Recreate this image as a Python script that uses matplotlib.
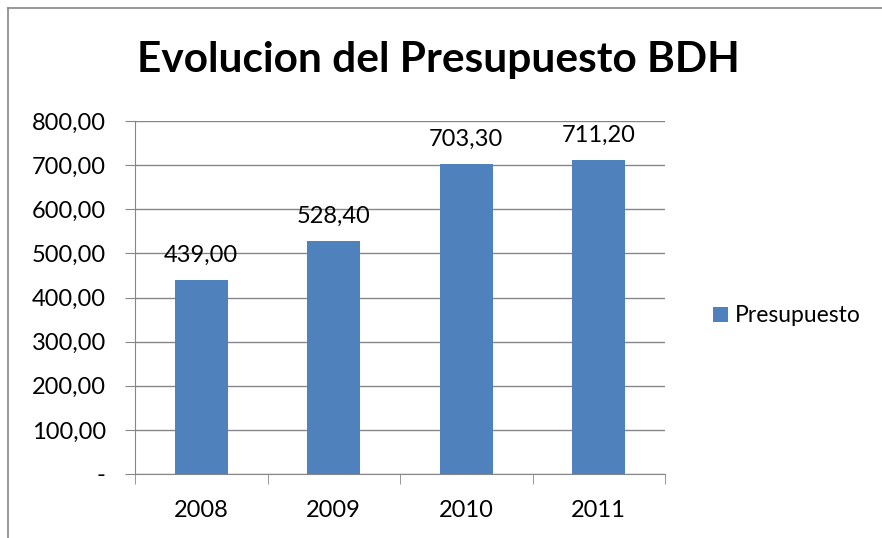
import numpy as np
import matplotlib.pyplot as plt
from matplotlib.lines import Line2D

# data
years = ['2008', '2009', '2010', '2011']
presupuesto = [439.00, 528.40, 703.30, 711.20]
yticks = [0, 100, 200, 300, 400, 500, 600, 700, 800]

plt.rcParams['font.family'] = ['Lato', 'DejaVu Sans']

W, H = 882, 538
fig = plt.figure(figsize=(W / 100, H / 100), dpi=100)

# plot area in pixel coords -> figure fractions
left, right, top, bottom = 135, 665, 121, 474
ax = fig.add_axes([left / W, 1 - bottom / H, (right - left) / W, (bottom - top) / H])

x = np.arange(len(years))
bars = ax.bar(x, presupuesto, width=0.4, color='#4F81BD', zorder=3, label='Presupuesto')

ax.set_xlim(-0.5, len(years) - 0.5)
ax.set_ylim(0, 800)
ax.set_yticks(yticks)
ax.set_yticklabels(['-' if v == 0 else f'{v:,.2f}'.replace('.', ',') for v in yticks])
ax.set_xticks(x)
ax.set_xticklabels(years)
ax.set_xticks(np.arange(len(years) + 1) - 0.5, minor=True)

ax.grid(axis='y', color='#868686', linewidth=1, zorder=0)
for s in ['top', 'right']:
    ax.spines[s].set_visible(False)
for s in ['left', 'bottom']:
    ax.spines[s].set_color('#868686')
ax.tick_params(axis='y', length=7, color='#868686', labelsize=17, pad=14)
ax.tick_params(axis='x', which='major', length=0, labelsize=17, pad=19)
ax.tick_params(axis='x', which='minor', length=7, color='#868686')

for b, v in zip(bars, presupuesto):
    ax.annotate(f'{v:.2f}'.replace('.', ','), (b.get_x() + b.get_width() / 2, v),
                xytext=(0, 13), textcoords='offset points', ha='center', va='baseline',
                fontsize=17)

fig.text(438 / W, 1 - 60 / H, 'Evolucion del Presupuesto BDH', ha='center', va='center',
         fontsize=30.5, fontweight='bold')

fig.legend(handles=[bars], labels=['Presupuesto'], loc='center left',
           bbox_to_anchor=(692 / W, 1 - 316 / H), frameon=False, fontsize=16.5,
           handlelength=0.65, handleheight=0.65, handletextpad=0.3)

# outer chart border (only left and top edges visible in the crop)
bc = '#868686'
fig.add_artist(Line2D([8 / W, 8 / W], [0, 1 - 8 / H], transform=fig.transFigure, color=bc, lw=1.2))
fig.add_artist(Line2D([8 / W, 1], [1 - 8 / H, 1 - 8 / H], transform=fig.transFigure, color=bc, lw=1.2))

fig.savefig('out.png', dpi=100)
